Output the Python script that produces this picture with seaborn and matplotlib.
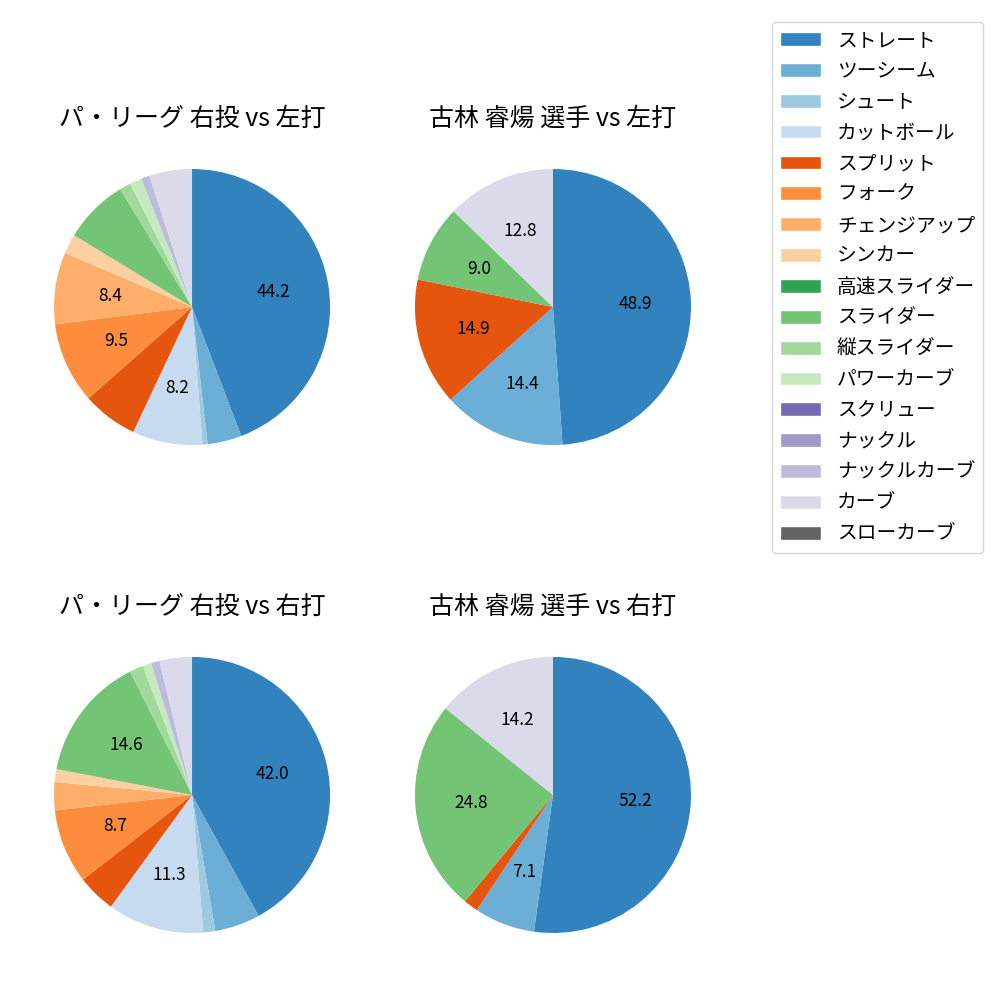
import matplotlib
matplotlib.use("Agg")
import matplotlib.pyplot as plt
from matplotlib.patches import Patch
import seaborn as sns

sns.set_theme(style="white")
plt.rcParams['font.family'] = ['Noto Sans CJK JP', 'DejaVu Sans']
plt.rcParams['text.color'] = 'black'

# pitch types (legend order)
pitch_types = [
    'ストレート', 'ツーシーム', 'シュート', 'カットボール', 'スプリット', 'フォーク',
    'チェンジアップ', 'シンカー', '高速スライダー', 'スライダー', '縦スライダー',
    'パワーカーブ', 'スクリュー', 'ナックル', 'ナックルカーブ', 'カーブ', 'スローカーブ'
]

# share of pitches (%) per panel, same order as pitch_types
league_vs_left = [44.2, 4.0, 0.6, 8.2, 6.5, 9.5, 8.4, 2.3, 0.0, 7.6, 1.3, 1.4, 0.0, 0.0, 1.0, 5.0, 0.0]
player_vs_left = [48.9, 14.4, 0.0, 0.0, 14.9, 0.0, 0.0, 0.0, 0.0, 9.0, 0.0, 0.0, 0.0, 0.0, 0.0, 12.8, 0.0]
league_vs_right = [42.0, 5.3, 1.4, 11.3, 4.5, 8.7, 3.3, 1.5, 0.0, 14.6, 1.6, 1.0, 0.0, 0.0, 1.0, 3.8, 0.0]
player_vs_right = [52.2, 7.1, 0.0, 0.0, 1.7, 0.0, 0.0, 0.0, 0.0, 24.8, 0.0, 0.0, 0.0, 0.0, 0.0, 14.2, 0.0]

titles = ['パ・リーグ 右投 vs 左打', '古林 睿煬 選手 vs 左打',
          'パ・リーグ 右投 vs 右打', '古林 睿煬 選手 vs 右打']
panels = [league_vs_left, player_vs_left, league_vs_right, player_vs_right]
label_min = [8.0, 7.0, 8.0, 7.0]

colors = sns.color_palette('tab20c', 20)[:17]

fig, axes = plt.subplots(2, 2, figsize=(10, 10))
plt.subplots_adjust(left=0.0195, right=0.7255, top=0.8655, bottom=0.0325,
                    wspace=0.046, hspace=0.414)


def make_autopct(threshold):
    def fmt(pct):
        return f'{pct:.1f}' if pct >= threshold else ''
    return fmt


for ax, vals, title, thr in zip(axes.flat, panels, titles, label_min):
    ax.pie(vals, colors=colors, startangle=90, counterclock=False,
           autopct=make_autopct(thr), textprops={'fontsize': 12.5, 'color': 'black'},
           wedgeprops={'linewidth': 0, 'edgecolor': 'none'})
    ax.set_title(title, fontsize=18, color='black')
    ax.set_aspect('equal')

handles = [Patch(facecolor=c, label=p) for c, p in zip(colors, pitch_types)]
fig.legend(handles=handles, loc='upper right', bbox_to_anchor=(0.983, 0.978),
           borderaxespad=0, fontsize=14.2, handlelength=2.1, frameon=True,
           labelcolor='black')

fig.savefig('out.png', dpi=100)
